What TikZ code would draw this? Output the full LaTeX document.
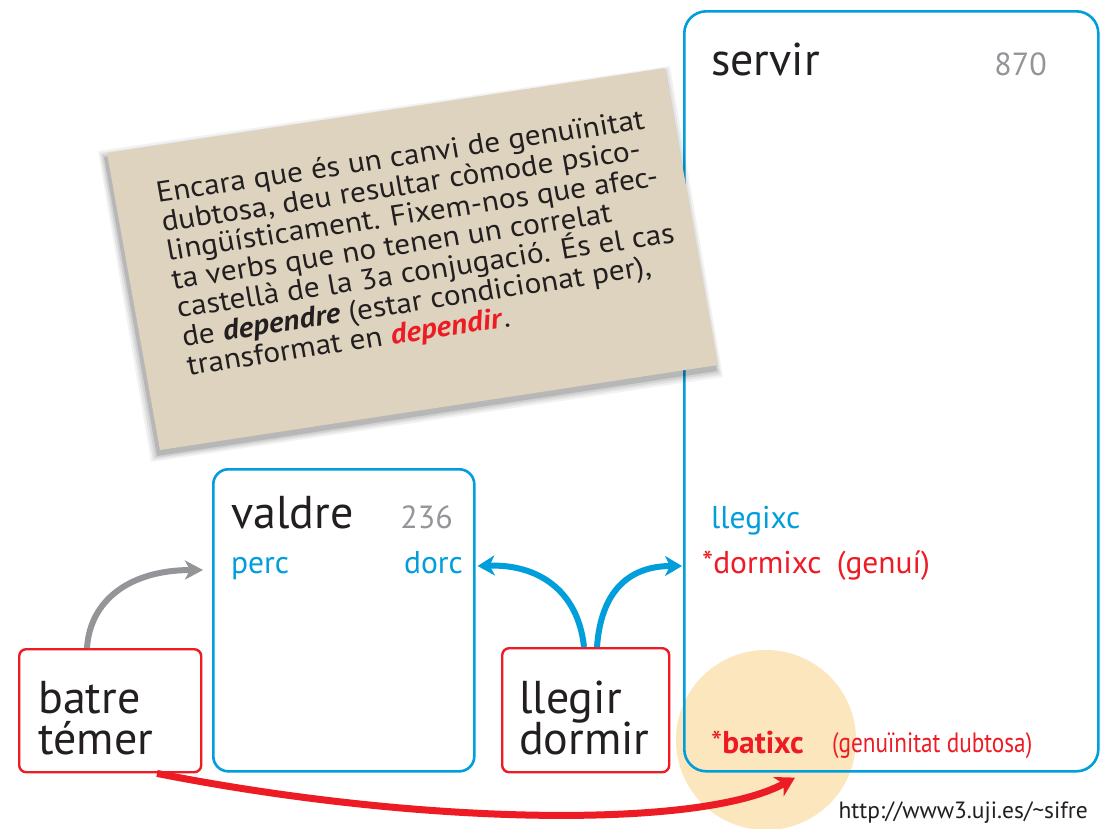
\documentclass[tikz,border=0pt]{standalone}
\usepackage{fontspec}
\setmainfont{PT Sans}
\usetikzlibrary{arrows.meta,calc}
\definecolor{blueC}{RGB}{0,158,219}
\definecolor{redC}{RGB}{237,28,36}
\definecolor{grayC}{RGB}{147,149,152}
\definecolor{textC}{RGB}{35,31,32}
\definecolor{cardC}{RGB}{221,211,190}
\definecolor{peachC}{RGB}{251,230,189}
\newcommand{\cardline}[1]{\scalebox{1.08}[1]{#1}}
\begin{document}
\begin{tikzpicture}[x=1pt,y=-1pt,
  txt/.style={inner sep=0pt, anchor=base west, text=textC},
  big/.style={txt, font=\fontsize{46}{46}\selectfont},
  num/.style={inner sep=0pt, anchor=base east, text=grayC, font=\fontsize{32}{32}\selectfont},
  sm/.style={txt, font=\fontsize{31.5}{31.5}\selectfont},
  cardtxt/.style={txt, transform shape, font=\fontsize{29}{29}\selectfont},
  bluebox/.style={draw=blueC, line width=2.6pt, rounded corners=#1, anchor=north west, inner sep=0pt},
  redbox/.style={draw=redC, line width=2.4pt, rounded corners=7pt, anchor=north west, inner sep=0pt},
  bluearrow/.style={draw=blueC, line width=6pt, -{Stealth[length=17pt,width=20pt,inset=5pt]}},
  grayarrow/.style={draw=grayC, line width=6pt, -{Stealth[length=18pt,width=19pt,inset=5pt]}},
  redarrow/.style={draw=redC, line width=7pt, -{Stealth[length=19pt,width=22pt,inset=6pt]}},
]
\useasboundingbox (0,0) rectangle (1102,828);
\fill[white] (0,0) rectangle (1102,828);

% highlight ellipse
\fill[peachC] (766,740) circle [radius=90];

% boxes
\node[bluebox=22pt, minimum width=414pt, minimum height=760pt] (sv) at (683,10) {};
\node[bluebox=15pt, minimum width=261pt, minimum height=302pt] (vb) at (212,468) {};
\node[redbox, minimum width=182pt, minimum height=123pt] (bt) at (18,648) {};
\node[redbox, minimum width=167pt, minimum height=124pt] (ld) at (501,647) {};

% card shadow
\foreach \e/\o in {7/0.05,5/0.06,3/0.08,1/0.12}{
  \fill[black,opacity=\o] (107-\e-2,153-\e+5) -- (665+\e-2,68-\e+5) -- (718+\e-2,365+\e+5) -- (160-\e-2,450+\e+5) -- cycle;
}
% card
\fill[cardC] (107,153) coordinate (cTL) -- (665,68) coordinate (cTR) -- (718,365) coordinate (cBR) -- (160,450) coordinate (cBL) -- cycle;

\begin{scope}[shift={(158,203)}, cm={0.9886,0.1506,-0.1754,0.9845,(0,0)}]
  \node[cardtxt] (c1) at (0,0) {\cardline{Encara que és un canvi de genuïnitat}};
  \node[cardtxt] (c2) at (0,29.2) {\cardline{dubtosa, deu resultar còmode psico-}};
  \node[cardtxt] (c3) at (0,58.4) {\cardline{lingüísticament. Fixem-nos que afec-}};
  \node[cardtxt] (c4) at (0,87.6) {\cardline{ta verbs que no tenen un correlat}};
  \node[cardtxt] (c5) at (0,116.8) {\cardline{castellà de la 3a conjugació. És el cas}};
  \node[cardtxt] (c6) at (0,146) {\cardline{de \textbf{\textit{dependre}} (estar condicionat per),}};
  \node[cardtxt] (c7) at (0,175.2) {\cardline{transformat en \textcolor{redC}{\textbf{\textit{dependir}}}.}};
\end{scope}

% texts
\node[big] (servir) at (711,75) {servir};
\node[num] (n870) at (1047,75) {870};
\node[big] (valdre) at (231,528) {valdre};
\node[num] (n236) at (453,528) {236};
\node[sm, text=blueC] (perc) at (231,573) {perc};
\node[sm, text=blueC, anchor=base east] (dorc) at (463,573) {dorc};
\node[sm, text=blueC] (llegixc) at (711,528) {llegixc};
\node[sm, text=redC] (dormixc) at (702,573) {*dormixc\hspace{7pt} (genuí)};
\node[sm, text=redC] (batixc) at (711,753) {*\textbf{batixc}};
\node[txt, text=redC, font=\fontsize{28}{28}\selectfont] (gen) at (832,752) {\scalebox{0.83}[1]{(genuïnitat dubtosa)}};
\node[txt, anchor=base east, font=\fontsize{23.5}{23.5}\selectfont] (url) at (1088,818) {http://www3.uji.es/\textasciitilde sifre};
\node[big] (batre) at (38,713) {batre};
\node[big] (temer) at (38,754) {témer};
\node[big] (llegir) at (519,713) {llegir};
\node[big] (dormir) at (519,754) {dormir};

% connectors
\coordinate (gEnd) at ($(vb.north west)+(-9,102)$);
\draw[grayarrow] ($(bt.north west)+(69,0)$) .. controls +(3,-48) and +(-73,0) .. (gEnd);
\coordinate (bL) at ($(vb.north east)+(2,98)$);
\coordinate (bR) at ($(sv.north west)+(-1,556)$);
\draw[bluearrow] ($(ld.north west)+(83,0)$) .. controls +(-6,-57) and +(60,-2) .. (bL);
\draw[bluearrow] ($(ld.north west)+(96,0)$) .. controls +(4,-57) and +(-52,0) .. (bR);
\coordinate (rEnd) at ($(sv.south west)+(112,5)$);
\draw[redarrow] ($(bt.south west)+(139,0)$) .. controls +(263,52) and +(-95,52) .. (rEnd);
\end{tikzpicture}
\end{document}
